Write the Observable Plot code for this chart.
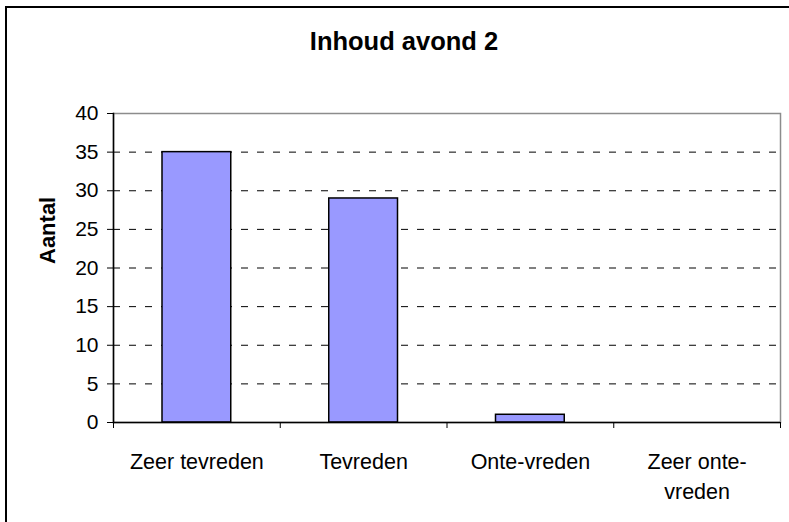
<!DOCTYPE html>
<html><head><meta charset="utf-8">
<script src="https://cdn.jsdelivr.net/npm/d3@7"></script>
<script src="https://cdn.jsdelivr.net/npm/@observablehq/plot@0.6"></script>
<style>
html,body{margin:0;padding:0;background:#fff;overflow:hidden;width:789px;height:522px;}
#wrap{position:relative;width:789px;height:522px;overflow:hidden;}
#border{position:absolute;left:5px;top:6px;width:830px;height:560px;border:2px solid #000;pointer-events:none;}
svg{display:block}
</style></head><body>
<div id="wrap"><div id="chart"></div><div id="border"></div></div>
<script>
const title = "Inhoud avond 2";
const yLabel = "Aantal";
const categories = ["Zeer tevreden", "Tevreden", "Onte-vreden", "Zeer onte-vreden"];
const values = [35, 29, 1, 0];
const yTicks = [0, 5, 10, 15, 20, 25, 30, 35, 40];

const data = categories.map((c, i) => ({category: c, value: values[i], index: i}));
const boundaries = d3.range(categories.length + 1);
const gridTicks = yTicks.filter(t => t > 0 && t < 40);

const chart = Plot.plot({
  width: 789,
  height: 522,
  marginTop: 113,
  marginBottom: 100,
  marginLeft: 113,
  marginRight: 9,
  style: {fontFamily: "'Liberation Sans', Arial, sans-serif", fontSize: "21px", color: "#000", background: "#fff"},
  x: {domain: [0, categories.length], axis: null},
  y: {domain: [0, 40], axis: null},
  marks: [
    Plot.frame({stroke: "#8c8c8c", strokeWidth: 1.5}),
    Plot.ruleY(gridTicks, {stroke: "#000", strokeWidth: 1, strokeDasharray: "7,9"}),
    Plot.rectY(data, {x1: d => d.index, x2: d => d.index + 1, y: "value", insetLeft: 49, insetRight: 49, fill: "#9999ff", stroke: "#000", strokeWidth: 1.5}),
    Plot.ruleY([0], {stroke: "#000", strokeWidth: 1.5}),
    Plot.frame({anchor: "left", stroke: "#000", strokeWidth: 1.5}),
    Plot.axisY({ticks: yTicks, tickSize: 6, tickPadding: 9, label: null, fontSize: 21}),
    Plot.axisX({ticks: boundaries, tickSize: 6, tickFormat: () => "", label: null}),
    Plot.text(data, {x: d => d.index + 0.5, y: 0, text: "category", lineAnchor: "top", dy: 25, lineWidth: 7, lineHeight: 1.4, fontSize: 21.5, fill: "#000"}),
    Plot.text([yLabel], {frameAnchor: "left", dx: -66, dy: -4, rotate: -90, fontWeight: "bold", fontSize: 22, fill: "#000"}),
    Plot.text([title], {frameAnchor: "top", lineAnchor: "middle", dx: -43, dy: -72, fontWeight: "bold", fontSize: 25.5, fill: "#000"})
  ]
});
document.getElementById("chart").appendChild(chart);
</script>
</body></html>
